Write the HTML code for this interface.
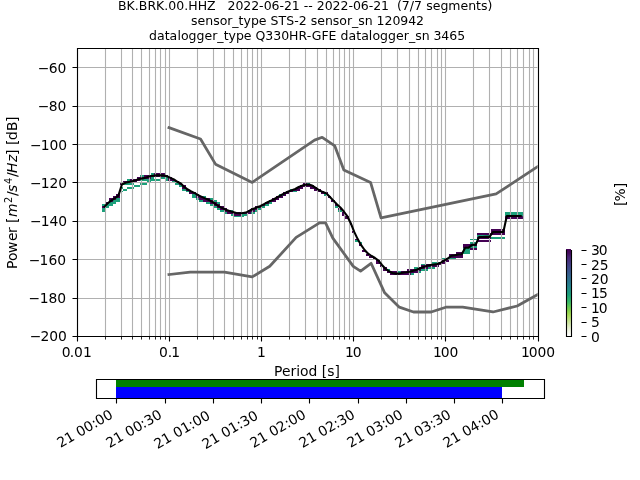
<!DOCTYPE html>
<html lang="en"><head><meta charset="utf-8"><title>PPSD BK.BRK.00.HHZ</title>
<style>html,body{margin:0;padding:0;background:#fff;overflow:hidden}svg{display:block}</style></head>
<body>
<svg width="640" height="480" viewBox="0 0 640 480" font-family="DejaVu Sans, Liberation Sans, sans-serif" font-size="13.889px" fill="#000">
<rect width="640" height="480" fill="#fff"/>
<defs><clipPath id="c"><rect x="76.8" y="48" width="460.8" height="288"/></clipPath>
<linearGradient id="g" x1="0" y1="1" x2="0" y2="0"><stop offset="0.0000" stop-color="#ffffff"/><stop offset="0.0500" stop-color="#f5f8ec"/><stop offset="0.1000" stop-color="#e4eecd"/><stop offset="0.1500" stop-color="#d0e6a5"/><stop offset="0.2000" stop-color="#bce07d"/><stop offset="0.2500" stop-color="#a5da55"/><stop offset="0.3000" stop-color="#82d04b"/><stop offset="0.3400" stop-color="#62c855"/><stop offset="0.4000" stop-color="#37b869"/><stop offset="0.4767" stop-color="#1ba07a"/><stop offset="0.5200" stop-color="#209484"/><stop offset="0.5800" stop-color="#26828e"/><stop offset="0.6500" stop-color="#2d708e"/><stop offset="0.7200" stop-color="#375d8d"/><stop offset="0.7800" stop-color="#3e4c8a"/><stop offset="0.8500" stop-color="#453781"/><stop offset="0.9100" stop-color="#482374"/><stop offset="0.9530" stop-color="#460c5f"/><stop offset="1.0000" stop-color="#440154"/></linearGradient></defs>
<g clip-path="url(#c)">
<g shape-rendering="crispEdges">
<rect x="151" y="173" width="3" height="2" fill="#1ba07a"/>
<rect x="154" y="173" width="11" height="2" fill="#440154"/>
<rect x="140" y="175" width="4" height="2" fill="#1ba07a"/>
<rect x="144" y="175" width="24" height="2" fill="#440154"/>
<rect x="151" y="177" width="3" height="2" fill="#1ba07a"/>
<rect x="161" y="177" width="7" height="2" fill="#1ba07a"/>
<rect x="137" y="177" width="14" height="2" fill="#440154"/>
<rect x="168" y="177" width="4" height="2" fill="#440154"/>
<rect x="127" y="179" width="3" height="2" fill="#1ba07a"/>
<rect x="140" y="179" width="21" height="2" fill="#1ba07a"/>
<rect x="165" y="179" width="3" height="2" fill="#1ba07a"/>
<rect x="130" y="179" width="10" height="2" fill="#440154"/>
<rect x="168" y="179" width="7" height="2" fill="#440154"/>
<rect x="147" y="181" width="4" height="2" fill="#1ba07a"/>
<rect x="172" y="181" width="3" height="2" fill="#1ba07a"/>
<rect x="123" y="181" width="14" height="2" fill="#440154"/>
<rect x="175" y="181" width="4" height="2" fill="#440154"/>
<rect x="123" y="183" width="11" height="2" fill="#1ba07a"/>
<rect x="140" y="183" width="7" height="2" fill="#1ba07a"/>
<rect x="175" y="183" width="4" height="2" fill="#1ba07a"/>
<rect x="307" y="183" width="3" height="2" fill="#1ba07a"/>
<rect x="120" y="183" width="3" height="2" fill="#440154"/>
<rect x="179" y="183" width="3" height="2" fill="#440154"/>
<rect x="303" y="183" width="4" height="2" fill="#440154"/>
<rect x="134" y="185" width="6" height="2" fill="#1ba07a"/>
<rect x="179" y="185" width="3" height="2" fill="#1ba07a"/>
<rect x="182" y="185" width="4" height="2" fill="#440154"/>
<rect x="300" y="185" width="14" height="2" fill="#440154"/>
<rect x="120" y="187" width="3" height="2" fill="#1ba07a"/>
<rect x="127" y="187" width="7" height="2" fill="#1ba07a"/>
<rect x="182" y="187" width="4" height="2" fill="#440154"/>
<rect x="297" y="187" width="6" height="2" fill="#440154"/>
<rect x="310" y="187" width="7" height="2" fill="#440154"/>
<rect x="123" y="189" width="4" height="2" fill="#1ba07a"/>
<rect x="182" y="189" width="4" height="2" fill="#1ba07a"/>
<rect x="290" y="189" width="3" height="2" fill="#1ba07a"/>
<rect x="186" y="189" width="3" height="2" fill="#440154"/>
<rect x="293" y="189" width="7" height="2" fill="#440154"/>
<rect x="314" y="189" width="7" height="2" fill="#440154"/>
<rect x="120" y="191" width="3" height="1" fill="#1ba07a"/>
<rect x="186" y="191" width="3" height="1" fill="#1ba07a"/>
<rect x="293" y="191" width="4" height="1" fill="#1ba07a"/>
<rect x="189" y="191" width="3" height="1" fill="#440154"/>
<rect x="286" y="191" width="7" height="1" fill="#440154"/>
<rect x="317" y="191" width="7" height="1" fill="#440154"/>
<rect x="189" y="192" width="7" height="2" fill="#440154"/>
<rect x="283" y="192" width="7" height="2" fill="#440154"/>
<rect x="321" y="192" width="7" height="2" fill="#440154"/>
<rect x="192" y="194" width="4" height="2" fill="#1ba07a"/>
<rect x="279" y="194" width="4" height="2" fill="#1ba07a"/>
<rect x="324" y="194" width="4" height="2" fill="#1ba07a"/>
<rect x="116" y="194" width="4" height="2" fill="#440154"/>
<rect x="196" y="194" width="3" height="2" fill="#440154"/>
<rect x="283" y="194" width="3" height="2" fill="#440154"/>
<rect x="192" y="196" width="4" height="2" fill="#1ba07a"/>
<rect x="203" y="196" width="3" height="2" fill="#1ba07a"/>
<rect x="113" y="196" width="7" height="2" fill="#440154"/>
<rect x="196" y="196" width="7" height="2" fill="#440154"/>
<rect x="276" y="196" width="7" height="2" fill="#440154"/>
<rect x="328" y="196" width="3" height="2" fill="#440154"/>
<rect x="116" y="198" width="4" height="2" fill="#1ba07a"/>
<rect x="196" y="198" width="3" height="2" fill="#1ba07a"/>
<rect x="210" y="198" width="3" height="2" fill="#1ba07a"/>
<rect x="109" y="198" width="7" height="2" fill="#440154"/>
<rect x="199" y="198" width="11" height="2" fill="#440154"/>
<rect x="272" y="198" width="7" height="2" fill="#440154"/>
<rect x="113" y="200" width="7" height="2" fill="#1ba07a"/>
<rect x="199" y="200" width="4" height="2" fill="#1ba07a"/>
<rect x="213" y="200" width="4" height="2" fill="#1ba07a"/>
<rect x="109" y="200" width="4" height="2" fill="#440154"/>
<rect x="203" y="200" width="10" height="2" fill="#440154"/>
<rect x="269" y="200" width="7" height="2" fill="#440154"/>
<rect x="331" y="200" width="4" height="2" fill="#440154"/>
<rect x="109" y="202" width="7" height="2" fill="#1ba07a"/>
<rect x="206" y="202" width="4" height="2" fill="#1ba07a"/>
<rect x="217" y="202" width="3" height="2" fill="#1ba07a"/>
<rect x="269" y="202" width="3" height="2" fill="#1ba07a"/>
<rect x="106" y="202" width="3" height="2" fill="#440154"/>
<rect x="210" y="202" width="7" height="2" fill="#440154"/>
<rect x="265" y="202" width="4" height="2" fill="#440154"/>
<rect x="102" y="204" width="11" height="2" fill="#1ba07a"/>
<rect x="210" y="204" width="3" height="2" fill="#1ba07a"/>
<rect x="265" y="204" width="4" height="2" fill="#1ba07a"/>
<rect x="213" y="204" width="7" height="2" fill="#440154"/>
<rect x="262" y="204" width="3" height="2" fill="#440154"/>
<rect x="335" y="204" width="3" height="2" fill="#440154"/>
<rect x="106" y="206" width="3" height="2" fill="#1ba07a"/>
<rect x="213" y="206" width="4" height="2" fill="#1ba07a"/>
<rect x="262" y="206" width="3" height="2" fill="#1ba07a"/>
<rect x="335" y="206" width="3" height="2" fill="#1ba07a"/>
<rect x="102" y="206" width="4" height="2" fill="#440154"/>
<rect x="217" y="206" width="7" height="2" fill="#440154"/>
<rect x="255" y="206" width="7" height="2" fill="#440154"/>
<rect x="102" y="208" width="4" height="2" fill="#1ba07a"/>
<rect x="217" y="208" width="3" height="2" fill="#1ba07a"/>
<rect x="258" y="208" width="4" height="2" fill="#1ba07a"/>
<rect x="220" y="208" width="7" height="2" fill="#440154"/>
<rect x="251" y="208" width="7" height="2" fill="#440154"/>
<rect x="338" y="208" width="4" height="2" fill="#440154"/>
<rect x="102" y="210" width="4" height="2" fill="#1ba07a"/>
<rect x="220" y="210" width="4" height="2" fill="#1ba07a"/>
<rect x="231" y="210" width="3" height="2" fill="#1ba07a"/>
<rect x="255" y="210" width="3" height="2" fill="#1ba07a"/>
<rect x="338" y="210" width="4" height="2" fill="#1ba07a"/>
<rect x="224" y="210" width="7" height="2" fill="#440154"/>
<rect x="248" y="210" width="7" height="2" fill="#440154"/>
<rect x="224" y="212" width="3" height="2" fill="#1ba07a"/>
<rect x="251" y="212" width="4" height="2" fill="#1ba07a"/>
<rect x="505" y="212" width="18" height="2" fill="#1ba07a"/>
<rect x="227" y="212" width="24" height="2" fill="#440154"/>
<rect x="342" y="212" width="3" height="2" fill="#440154"/>
<rect x="231" y="214" width="3" height="2" fill="#1ba07a"/>
<rect x="241" y="214" width="7" height="2" fill="#1ba07a"/>
<rect x="505" y="214" width="18" height="2" fill="#1ba07a"/>
<rect x="234" y="214" width="7" height="2" fill="#440154"/>
<rect x="342" y="214" width="3" height="2" fill="#440154"/>
<rect x="234" y="216" width="10" height="1" fill="#1ba07a"/>
<rect x="345" y="216" width="4" height="1" fill="#440154"/>
<rect x="505" y="216" width="18" height="1" fill="#460c5f"/>
<rect x="345" y="217" width="4" height="2" fill="#440154"/>
<rect x="505" y="217" width="18" height="2" fill="#440154"/>
<rect x="349" y="223" width="3" height="2" fill="#440154"/>
<rect x="491" y="229" width="14" height="2" fill="#440154"/>
<rect x="352" y="231" width="3" height="2" fill="#440154"/>
<rect x="491" y="231" width="14" height="2" fill="#440154"/>
<rect x="477" y="233" width="28" height="2" fill="#440154"/>
<rect x="477" y="235" width="14" height="2" fill="#1ba07a"/>
<rect x="491" y="237" width="14" height="2" fill="#1ba07a"/>
<rect x="477" y="237" width="14" height="2" fill="#440154"/>
<rect x="470" y="239" width="7" height="1" fill="#1ba07a"/>
<rect x="355" y="239" width="4" height="1" fill="#440154"/>
<rect x="355" y="240" width="4" height="2" fill="#1ba07a"/>
<rect x="477" y="240" width="14" height="2" fill="#440154"/>
<rect x="359" y="242" width="3" height="2" fill="#1ba07a"/>
<rect x="470" y="242" width="7" height="2" fill="#1ba07a"/>
<rect x="359" y="244" width="3" height="2" fill="#440154"/>
<rect x="463" y="244" width="14" height="2" fill="#440154"/>
<rect x="470" y="246" width="7" height="2" fill="#1ba07a"/>
<rect x="463" y="246" width="7" height="2" fill="#440154"/>
<rect x="463" y="248" width="7" height="2" fill="#1ba07a"/>
<rect x="470" y="248" width="7" height="2" fill="#440154"/>
<rect x="463" y="250" width="7" height="2" fill="#1ba07a"/>
<rect x="362" y="250" width="4" height="2" fill="#440154"/>
<rect x="463" y="252" width="7" height="2" fill="#1ba07a"/>
<rect x="456" y="252" width="7" height="2" fill="#440154"/>
<rect x="366" y="254" width="3" height="2" fill="#440154"/>
<rect x="449" y="254" width="14" height="2" fill="#440154"/>
<rect x="369" y="256" width="4" height="2" fill="#440154"/>
<rect x="449" y="256" width="14" height="2" fill="#440154"/>
<rect x="442" y="258" width="4" height="2" fill="#1ba07a"/>
<rect x="449" y="258" width="7" height="2" fill="#1ba07a"/>
<rect x="373" y="258" width="3" height="2" fill="#440154"/>
<rect x="446" y="258" width="3" height="2" fill="#440154"/>
<rect x="376" y="260" width="4" height="2" fill="#440154"/>
<rect x="442" y="260" width="7" height="2" fill="#440154"/>
<rect x="432" y="262" width="7" height="2" fill="#1ba07a"/>
<rect x="376" y="262" width="4" height="2" fill="#440154"/>
<rect x="439" y="262" width="7" height="2" fill="#440154"/>
<rect x="421" y="264" width="4" height="1" fill="#1ba07a"/>
<rect x="425" y="264" width="17" height="1" fill="#440154"/>
<rect x="380" y="265" width="3" height="2" fill="#440154"/>
<rect x="421" y="265" width="18" height="2" fill="#440154"/>
<rect x="414" y="267" width="4" height="2" fill="#1ba07a"/>
<rect x="428" y="267" width="7" height="2" fill="#1ba07a"/>
<rect x="383" y="267" width="4" height="2" fill="#440154"/>
<rect x="418" y="267" width="10" height="2" fill="#440154"/>
<rect x="387" y="269" width="3" height="2" fill="#1ba07a"/>
<rect x="421" y="269" width="7" height="2" fill="#1ba07a"/>
<rect x="383" y="269" width="4" height="2" fill="#440154"/>
<rect x="407" y="269" width="14" height="2" fill="#440154"/>
<rect x="397" y="271" width="4" height="2" fill="#1ba07a"/>
<rect x="418" y="271" width="3" height="2" fill="#1ba07a"/>
<rect x="387" y="271" width="10" height="2" fill="#440154"/>
<rect x="401" y="271" width="17" height="2" fill="#440154"/>
<rect x="411" y="273" width="3" height="2" fill="#1ba07a"/>
<rect x="390" y="273" width="21" height="2" fill="#440154"/>
</g>
<path d="M77.5 48V336M105.5 48V336M121.5 48V336M132.5 48V336M141.5 48V336M149.5 48V336M155.5 48V336M160.5 48V336M165.5 48V336M169.5 48V336M197.5 48V336M213.5 48V336M224.5 48V336M233.5 48V336M241.5 48V336M247.5 48V336M252.5 48V336M257.5 48V336M261.5 48V336M289.5 48V336M305.5 48V336M317.5 48V336M326.5 48V336M333.5 48V336M339.5 48V336M344.5 48V336M349.5 48V336M353.5 48V336M381.5 48V336M397.5 48V336M409.5 48V336M418.5 48V336M425.5 48V336M431.5 48V336M437.5 48V336M441.5 48V336M445.5 48V336M473.5 48V336M489.5 48V336M501.5 48V336M510.5 48V336M517.5 48V336M523.5 48V336M529.5 48V336M533.5 48V336M538.5 48V336M76.8 336.5H537.6M76.8 298.5H537.6M76.8 259.5H537.6M76.8 221.5H537.6M76.8 182.5H537.6M76.8 144.5H537.6M76.8 106.5H537.6M76.8 67.5H537.6" stroke="#b0b0b0" stroke-width="1.111" fill="none"/>
<polyline points="104.54,206.60 108.01,203.00 111.48,200.40 114.95,198.20 118.41,195.60 121.88,184.50 125.35,182.80 128.82,182.00 132.29,181.20 135.75,180.20 139.22,179.00 142.69,178.40 146.16,177.40 149.63,176.30 153.09,175.80 156.56,175.40 160.03,175.20 163.50,175.40 166.96,176.30 170.43,177.90 173.90,179.40 177.37,181.80 180.84,183.50 184.30,186.90 187.77,189.50 191.24,191.40 194.71,193.20 198.18,195.10 201.64,196.90 205.11,198.40 208.58,199.80 212.05,201.70 215.51,204.20 218.98,206.40 222.45,208.10 225.92,209.70 229.39,210.90 232.85,211.90 236.32,213.00 239.79,213.30 243.26,213.00 246.73,212.20 250.19,210.30 253.66,208.70 257.13,207.30 260.60,206.00 264.06,204.10 267.53,202.20 271.00,200.60 274.47,199.00 277.94,196.80 281.40,195.00 284.87,193.20 288.34,191.50 291.81,190.20 295.28,189.00 298.74,187.00 302.21,185.60 305.68,184.70 309.15,184.60 312.61,185.80 316.08,188.10 319.55,190.50 323.02,192.10 326.49,193.40 329.95,197.00 333.42,200.60 336.89,204.20 340.36,207.40 343.83,211.50 347.29,216.20 350.76,223.20 354.23,231.90 357.70,239.10 361.16,245.20 364.63,250.00 368.10,253.70 371.57,256.00 375.04,258.00 378.50,260.60 381.97,265.00 385.44,268.80 388.91,271.20 392.38,273.00 395.84,273.60 399.31,273.60 402.78,272.80 406.25,272.30 409.72,271.70 413.18,270.80 416.65,269.80 420.12,268.20 423.59,266.90 427.05,265.70 430.52,265.00 433.99,264.50 437.46,264.00 440.93,262.60 444.39,260.30 447.86,258.50 451.33,255.70 454.80,255.30 458.27,254.50 461.73,254.20 465.20,247.80 468.67,247.60 472.14,244.90 475.60,244.80 479.07,237.00 482.54,237.00 486.01,236.90 489.48,236.90 492.94,232.10 496.41,232.00 499.88,232.00 503.35,232.00 506.82,216.00 510.28,216.00 513.75,216.00 517.22,216.00 520.69,216.00" fill="none" stroke="#000" stroke-width="2.083" stroke-linejoin="round" stroke-linecap="square"/>
<polyline points="168.96,127.68 200.52,139.02 215.51,164.16 252.19,182.40 314.55,140.16 322.20,137.28 334.79,145.92 343.85,169.91 370.56,182.40 381.02,217.91 496.13,193.93 629.76,105.87" fill="none" stroke="#666" stroke-width="2.778" stroke-linejoin="round" stroke-linecap="square"/>
<polyline points="168.96,274.56 190.20,272.06 224.45,272.06 252.19,276.87 269.73,266.30 296.16,237.40 319.50,222.91 325.54,222.90 332.83,238.08 353.28,266.40 360.58,271.19 371.08,263.29 384.66,292.81 399.33,307.19 413.48,312.00 431.16,312.00 445.84,307.20 462.72,307.18 492.98,311.98 517.15,306.01 629.76,243.61" fill="none" stroke="#666" stroke-width="2.778" stroke-linejoin="round" stroke-linecap="square"/>
</g>
<path d="M77.5 336.5v5M169.5 336.5v5M261.5 336.5v5M353.5 336.5v5M445.5 336.5v5M538.5 336.5v5M77.5 336.5h-5M77.5 298.5h-5M77.5 259.5h-5M77.5 221.5h-5M77.5 182.5h-5M77.5 144.5h-5M77.5 106.5h-5M77.5 67.5h-5" stroke="#000" stroke-width="1.111" fill="none"/>
<path d="M105.5 336.5v3.05M121.5 336.5v3.05M132.5 336.5v3.05M141.5 336.5v3.05M149.5 336.5v3.05M155.5 336.5v3.05M160.5 336.5v3.05M165.5 336.5v3.05M197.5 336.5v3.05M213.5 336.5v3.05M224.5 336.5v3.05M233.5 336.5v3.05M241.5 336.5v3.05M247.5 336.5v3.05M252.5 336.5v3.05M257.5 336.5v3.05M289.5 336.5v3.05M305.5 336.5v3.05M317.5 336.5v3.05M326.5 336.5v3.05M333.5 336.5v3.05M339.5 336.5v3.05M344.5 336.5v3.05M349.5 336.5v3.05M381.5 336.5v3.05M397.5 336.5v3.05M409.5 336.5v3.05M418.5 336.5v3.05M425.5 336.5v3.05M431.5 336.5v3.05M437.5 336.5v3.05M441.5 336.5v3.05M473.5 336.5v3.05M489.5 336.5v3.05M501.5 336.5v3.05M510.5 336.5v3.05M517.5 336.5v3.05M523.5 336.5v3.05M529.5 336.5v3.05M533.5 336.5v3.05" stroke="#000" stroke-width="0.833" fill="none"/>
<path d="M77 48.5H539M77 336.5H539M77.5 48V337M538.5 48V337" stroke="#000" stroke-width="1.111" fill="none"/>
<rect x="566" y="249" width="5" height="87.5" fill="url(#g)"/>
<path d="M566.5 250V336.5H571.5V250" stroke="#000" stroke-width="1.111" fill="none"/>
<path d="M581.5 336.5h5M581.5 322.5h5M581.5 307.5h5M581.5 293.5h5M581.5 278.5h5M581.5 264.5h5M581.5 250.5h5" stroke="#000" stroke-width="1.111" fill="none"/>
<rect x="116" y="379.5" width="408" height="7.5" fill="#008000"/>
<rect x="116" y="387" width="386" height="11.5" fill="#0000ff"/>
<path d="M96.5 379.5H544.5V398.5H96.5Z" stroke="#000" stroke-width="1.111" fill="none"/>
<path d="M116.5 398.5v5M165.5 398.5v5M213.5 398.5v5M261.5 398.5v5M309.5 398.5v5M358.5 398.5v5M406.5 398.5v5M454.5 398.5v5M502.5 398.5v5" stroke="#000" stroke-width="1.111" fill="none"/>
<text><tspan x="61.85 69.66 74.08 82.91" y="356.72">0.01</tspan></text>
<text><tspan x="158.92 167.73 171.16" y="356.72">0.1</tspan></text>
<text><tspan x="256.96" y="356.72">1</tspan></text>
<text><tspan x="344.95 352.76" y="356.72">10</tspan></text>
<text><tspan x="432.95 440.76 449.59" y="356.72">100</tspan></text>
<text><tspan x="520.94 528.76 537.58 546.16" y="356.72">1000</tspan></text>
<text><tspan x="29.72 40.6 49.17 57.99" y="340.5">−200</tspan></text>
<text><tspan x="28.47 39.85 48.42 57.24" y="303.1">−180</tspan></text>
<text><tspan x="28.72 39.6 48.42 57.24" y="264.7">−160</tspan></text>
<text><tspan x="29.97 40.85 49.42 58.24" y="226.3">−140</tspan></text>
<text><tspan x="29.97 40.85 49.42 58.24" y="187.9">−120</tspan></text>
<text><tspan x="29.97 40.85 49.42 58.24" y="149.5">−100</tspan></text>
<text><tspan x="37.8 48.67 57.5" y="111.1">−80</tspan></text>
<text><tspan x="37.8 48.67 57.5" y="72.7">−60</tspan></text>
<text><tspan x="274.08 281.94 290.49 296.19 300.04 308.54 317.33 321.75 327.16 334.4" y="376.28">Period [s]</tspan></text>
<text transform="translate(17.30,269.08) rotate(-90)"><tspan x="0 8.12 16.11 28.2 35.99 42.19 46.11" y="-0.25">Power [</tspan><tspan x="52.02" y="-0.25" font-style="italic">m</tspan><tspan x="66.19" y="-5.61" font-size="9.722px">2</tspan><tspan x="73" y="-0.25">/</tspan><tspan x="77.17" y="-0.25" font-style="italic">s</tspan><tspan x="85.05" y="-5.61" font-size="9.722px">4</tspan><tspan x="92.12" y="-0.25">/</tspan><tspan x="96.04 106.97" y="-0.25" font-style="italic">Hz</tspan><tspan x="114.01 119.42 124.08 128.99 138.05 147.07" y="-0.25">] [dB]</tspan></text>
<text font-size="12.5px" xml:space="preserve"><tspan x="117.93 126.5 134.7 138.67 147.5 155.93 164.14 168.35 176.31 184.26 188.23 197.64 207.03 215.34 219.32 223.29 227.51 235.46 243.17 251.37 259.07 263.84 271.54 279.5 284 291.7 299.9 303.64 308.14 312.9 316.87 324.82 332.53 340.48 348.43 352.95 360.65 368.85 373.37 381.07 389.53 393.5 396.96 401.84 409.79 414.01 422.46 426.18 432.7 440.39 448.32 460.5 468.18 476.1 481.01 487.53" y="9.67">BK.BRK.00.HHZ   2022-06-21 -- 2022-06-21  (7/7 segments)</tspan></text>
<text font-size="12.5px" xml:space="preserve"><tspan x="190.94 197.44 205.37 213.31 219.81 227.22 232.36 238.61 243.5 250.9 258.84 266.53 270.5 278.44 286.33 294.25 298.76 306.47 310.69 317.2 324.89 332.81 339.33 346.98 352.12 358.37 364.87 372.55 376.53 384.48 392.44 400.14 408.34 416.05" y="24.67">sensor_type STS-2 sensor_sn 120942</tspan></text>
<text font-size="12.5px" xml:space="preserve"><tspan x="148.92 157.09 164.76 169.4 177.56 181.04 188.43 196.62 204.56 212.25 217.14 223.64 228.54 235.93 243.87 251.56 255.53 265.37 273.33 281.28 288.98 298.39 306.81 311.78 321.47 328.4 336.54 340.53 348.47 356.37 361.26 368.68 372.4 380.04 387.98 395.92 403.86 409 415.25 421.76 429.18 433.4 441.36 449.31 457.26" y="39.67">datalogger_type Q330HR-GFE datalogger_sn 3465</tspan></text>
<text><tspan x="591.02" y="341.5">0</tspan></text>
<text><tspan x="591.02" y="327.1">5</tspan></text>
<text><tspan x="591.02 598.83" y="312.7">10</tspan></text>
<text><tspan x="591.02 599.08" y="298.3">15</tspan></text>
<text><tspan x="591.02 599.83" y="283.9">20</tspan></text>
<text><tspan x="591.02 599.83" y="269.5">25</tspan></text>
<text><tspan x="591.02 598.83" y="255.1">30</tspan></text>
<text transform="translate(624.70,195.00) rotate(-90)"><tspan x="-11.01 -6.6 6.84" y="0">[%]</tspan></text>
<text transform="translate(114.36,417.25) rotate(-30)"><tspan x="-62.06 -53.25 -44.67 -40.25 -31.42 -22.59 -18.17 -9.34" y="-0.25">21 00:00</tspan></text>
<text transform="translate(162.60,417.25) rotate(-30)"><tspan x="-61.56 -52.75 -43.92 -39.5 -30.67 -22.09 -17.42 -8.59" y="0.25">21 00:30</tspan></text>
<text transform="translate(210.85,417.25) rotate(-30)"><tspan x="-62.31 -53.5 -44.67 -40.25 -31.42 -22.59 -17.92 -9.09" y="1">21 01:00</tspan></text>
<text transform="translate(259.09,417.25) rotate(-30)"><tspan x="-62.56 -53.75 -44.92 -40.5 -31.67 -22.84 -18.17 -9.34" y="1 0.75 1 0.75 0.75 0.75 1 1">21 01:30</tspan></text>
<text transform="translate(307.34,417.25) rotate(-30)"><tspan x="-62.06 -53.25 -44.67 -40 -31.42 -22.59 -18.17 -9.34" y="0 -0.25 -0.25 -0.25 -0.25 -0.25 -0.25 -0.25">21 02:00</tspan></text>
<text transform="translate(355.58,417.25) rotate(-30)"><tspan x="-61.56 -52.75 -43.92 -39.5 -30.67 -21.84 -17.42 -8.59" y="0.25">21 02:30</tspan></text>
<text transform="translate(403.83,417.25) rotate(-30)"><tspan x="-61.56 -53 -44.17 -39.75 -30.92 -22.09 -17.67 -8.84" y="0">21 03:00</tspan></text>
<text transform="translate(452.07,417.25) rotate(-30)"><tspan x="-61.81 -53 -44.42 -40 -31.17 -22.34 -17.67 -9.09" y="0">21 03:30</tspan></text>
<text transform="translate(500.32,417.25) rotate(-30)"><tspan x="-62.06 -53.25 -44.67 -40 -31.42 -22.59 -17.92 -9.09" y="0 -0.25 -0.25 -0.25 -0.25 -0.25 0 -0.25">21 04:00</tspan></text>
</svg>
</body></html>
